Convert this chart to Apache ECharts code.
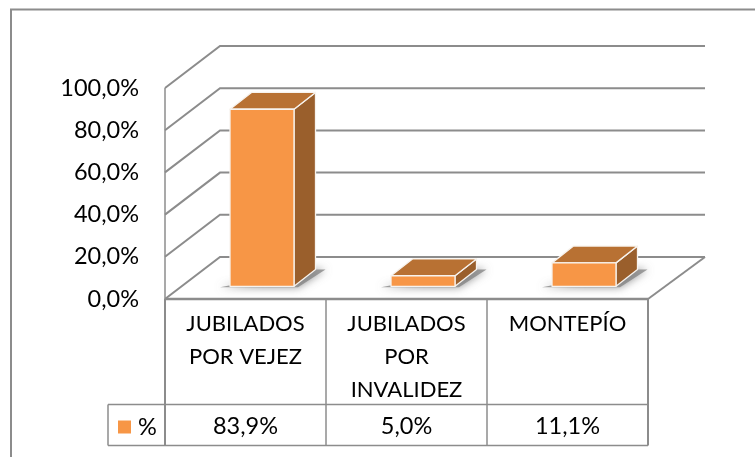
<!DOCTYPE html>
<html><head><meta charset="utf-8">
<style>html,body{margin:0;padding:0;background:#fff}#c{width:755px;height:457px}</style>
<script src="https://cdn.jsdelivr.net/npm/echarts@6/dist/echarts.min.js"></script>
</head><body><div id="c"></div>
<script>
const categories = ['JUBILADOS\nPOR VEJEZ', 'JUBILADOS\nPOR\nINVALIDEZ', 'MONTEPÍO'];
const values = [83.9, 5.0, 11.1];
const valueLabels = ['83,9%', '5,0%', '11,1%'];
const tickValues = [0, 20, 40, 60, 80, 100];
const tickLabels = ['0,0%', '20,0%', '40,0%', '60,0%', '80,0%', '100,0%'];
const seriesName = '%';

const FONT = 'Lato';
const LINE = '#8C8C8C';
const FACE = '#F79646', TOP = '#B87133', SIDE = '#9A5F2C';
// wall / bar depth offsets (pixels)
const WALL = [55, -42], NEAR = [16.5, -12.7], FAR = [38, -29.5];
const TABLE_MID = 404.5, TABLE_BOT = 445.5, TABLE_LEFT = 108;

const chart = echarts.init(document.getElementById('c'), null, {renderer: 'canvas'});

function wallItem(params, api) {
  const bw = api.size([1, 0])[0];
  const p = api.coord([0, api.value(0)]);
  const x = p[0] - bw / 2;
  const right = x + 3 * bw + WALL[0] + 2;
  const y = p[1];
  return {type: 'polyline', shape: {points: [[x, y], [x + WALL[0], y + WALL[1]], [right, y + WALL[1]]]},
    style: {stroke: LINE, lineWidth: 2, fill: null}};
}
function frameItem(params, api) {
  const bw = api.size([1, 0])[0];
  const o = api.coord([0, 0]), t = api.coord([0, 100]);
  const L = o[0] - bw / 2, R = L + 3 * bw, Y0 = o[1];
  const line = (x1, y1, x2, y2, w) => ({type: 'line', shape: {x1, y1, x2, y2}, style: {stroke: LINE, lineWidth: w}});
  const kids = [
    line(L, t[1], L, Y0, 1.5),
    line(L, Y0, R, Y0, 2.5),
    line(R, Y0, R + WALL[0] + 2, Y0 + WALL[1], 2),
    line(TABLE_LEFT, TABLE_MID, R, TABLE_MID, 1.5),
    line(TABLE_LEFT, TABLE_BOT, R, TABLE_BOT, 1.5),
    line(TABLE_LEFT, TABLE_MID, TABLE_LEFT, TABLE_BOT, 1.5)
  ];
  for (let i = 0; i <= 3; i++) kids.push(line(L + i * bw, Y0, L + i * bw, TABLE_BOT, i === 0 || i === 3 ? 2 : 1.5));
  categories.forEach((c, i) => kids.push({type: 'text', style: {
    text: valueLabels[i], x: L + (i + 0.5) * bw, y: (TABLE_MID + TABLE_BOT) / 2 + 1,
    align: 'center', verticalAlign: 'middle', font: '23.5px ' + FONT, fill: '#000'}}));
  return {type: 'group', children: kids};
}
function barItem(params, api) {
  const c = api.coord([api.value(0), 0]), v = api.coord([api.value(0), api.value(1)]);
  const half = 32;
  const x0 = c[0] + NEAR[0] - half, x1 = c[0] + NEAR[0] + half;
  const yb = c[1] + NEAR[1], yt = v[1] + NEAR[1];
  const dx = FAR[0] - NEAR[0], dy = FAR[1] - NEAR[1];
  const white = {stroke: '#F7F3EE', lineWidth: 1.3, lineJoin: 'round'};
  const poly = (pts, fill) => ({type: 'polygon', shape: {points: pts}, style: {fill, ...white}});
  return {type: 'group', children: [
    {type: 'polygon', shape: {points: [[x0 - 10, yb + 1], [x1 + 4, yb + 1], [x1 + dx + 10, yb + dy], [x1 + dx - 4, yb + dy]]},
      style: {fill: 'rgba(130,130,130,0.75)', shadowBlur: 9, shadowColor: 'rgba(110,110,110,1)'}},
    poly([[x1, yb], [x1 + dx, yb + dy], [x1 + dx, yt + dy], [x1, yt]], SIDE),
    poly([[x0, yt], [x1, yt], [x1 + dx, yt + dy], [x0 + dx, yt + dy]], TOP),
    poly([[x0, yb], [x1, yb], [x1, yt], [x0, yt]], FACE)
  ]};
}

chart.setOption({
  animation: false,
  backgroundColor: '#fff',
  textStyle: {fontFamily: FONT},
  grid: {left: 165, top: 88, width: 483, height: 211},
  legend: {
    data: [seriesName], left: 113, top: 410, itemWidth: 13, itemHeight: 13, itemGap: 0, icon: 'rect',
    textStyle: {fontFamily: FONT, fontSize: 23.5, color: '#000', padding: [0, 0, 0, 2]}
  },
  xAxis: {
    type: 'category', data: categories,
    axisLine: {show: false}, axisTick: {show: false},
    axisLabel: {interval: 0, margin: 8, fontFamily: FONT, fontSize: 22, lineHeight: 33, color: '#000', verticalAlign: 'top'}
  },
  yAxis: {
    type: 'value', min: 0, max: 100, interval: 20,
    axisLine: {show: false}, axisTick: {show: false}, splitLine: {show: false},
    axisLabel: {margin: 26, fontFamily: FONT, fontSize: 23.5, color: '#000', padding: [2, 0, 0, 0],
      formatter: v => tickLabels[tickValues.indexOf(v)]}
  },
  series: [
    {type: 'custom', name: 'walls', silent: true, clip: false, z: 1, coordinateSystem: 'cartesian2d',
      data: tickValues.map(v => [v]), encode: {y: 0}, renderItem: wallItem},
    {type: 'custom', name: 'frame', silent: true, clip: false, z: 1, coordinateSystem: 'cartesian2d',
      data: [[0, 0]], renderItem: frameItem},
    {type: 'custom', name: seriesName, clip: false, z: 3, coordinateSystem: 'cartesian2d',
      itemStyle: {color: FACE},
      data: values.map((v, i) => [i, v]), encode: {x: 0, y: 1}, renderItem: barItem}
  ],
  graphic: [{type: 'polyline', silent: true, z: -1, shape: {points: [[11, 457], [11, 9.5], [755, 9.5]]},
    style: {fill: null, stroke: LINE, lineWidth: 2}}]
});
</script></body></html>
